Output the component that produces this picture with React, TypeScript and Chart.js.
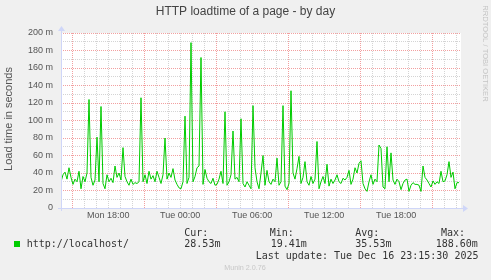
import React, { useEffect, useRef } from 'react';
import { Chart, registerables } from 'chart.js';
Chart.register(...registerables);

const chartTitle = 'HTTP loadtime of a page - by day';
const yAxisTitle = 'Load time in seconds';
const seriesName = 'http://localhost/';
const startHour = 14.07; // Mon ~14:04
const stepHours = 1 / 6; // 10 minutes per sample
const loadTimeMs = [
  30, 38, 41, 33, 46, 35, 27, 33, 30, 42,
  22, 36, 30, 40, 124, 35, 26, 32, 81, 30,
  116, 28, 22, 38, 30, 34, 29, 48, 35, 40,
  32, 69, 36, 30, 26, 33, 27, 29, 28, 30,
  126, 30, 38, 28, 42, 33, 37, 30, 42, 35,
  28, 38, 80, 33, 40, 35, 45, 32, 27, 23,
  22, 30, 105, 28, 35, 189, 30, 36, 46, 48,
  172, 27, 44, 34, 30, 28, 34, 26, 27, 33,
  42, 28, 110, 26, 30, 38, 88, 33, 35, 30,
  102, 28, 24, 30, 26, 22, 117, 46, 30, 22,
  40, 60, 26, 43, 30, 27, 33, 30, 57, 26,
  30, 117, 25, 21, 28, 134, 40, 33, 45, 59,
  28, 35, 53, 30, 26, 36, 28, 33, 76, 22,
  30, 36, 28, 50, 25, 33, 28, 32, 38, 30,
  28, 34, 32, 35, 43, 27, 33, 46, 40, 51,
  54, 28, 22, 19, 30, 38, 27, 33, 30, 72,
  68, 24, 22, 70, 30, 63, 32, 27, 33, 30,
  21, 28, 32, 33, 19, 26, 29, 27, 27, 26,
  19, 48, 35, 32, 28, 24, 31, 27, 30, 28,
  42, 30, 31, 38, 53, 35, 41, 22, 29, 29,
];
const xTickHours = [18, 24, 30, 36, 42];
const xTickText = ['Mon 18:00', 'Tue 00:00', 'Tue 06:00', 'Tue 12:00', 'Tue 18:00'];
const yMax = 200;
const legendHeaders = ['Cur:', 'Min:', 'Avg:', 'Max:'];
const legendValues = ['28.53m', '19.41m', '35.53m', '188.60m'];
const lastUpdate = 'Last update: Tue Dec 16 23:15:30 2025';
const watermark = 'RRDTOOL / TOBI OETIKER';
const footer = 'Munin 2.0.76';

const GRID = '#D4D4D4';
const MGRID = '#F2A0A0';
const AXIS = '#CFD6F8';
const SANS = '"Liberation Sans", Arial, sans-serif';
const MONO = '"DejaVu Sans Mono", monospace';

const decorPlugin = {
  id: 'decor',
  beforeDraw(chart: any) {
    const { ctx, chartArea: a } = chart;
    ctx.save();
    ctx.fillStyle = '#F0F0F0';
    ctx.fillRect(0, 0, chart.width, chart.height);
    ctx.fillStyle = '#FFFFFF';
    ctx.fillRect(a.left, a.top, a.right - a.left, a.bottom - a.top);
    ctx.restore();
  },
  afterDraw(chart: any) {
    const { ctx, chartArea: a } = chart;
    ctx.save();
    // axes
    ctx.strokeStyle = AXIS;
    ctx.fillStyle = AXIS;
    ctx.lineWidth = 1;
    ctx.beginPath();
    ctx.moveTo(a.left - 3, a.bottom + 0.5);
    ctx.lineTo(a.right + 3, a.bottom + 0.5);
    ctx.moveTo(a.left + 0.5, a.bottom + 3);
    ctx.lineTo(a.left + 0.5, a.top - 3);
    ctx.stroke();
    ctx.beginPath();
    ctx.moveTo(a.right + 2, a.bottom + 0.5 - 3.5);
    ctx.lineTo(a.right + 7, a.bottom + 0.5);
    ctx.lineTo(a.right + 2, a.bottom + 0.5 + 3.5);
    ctx.closePath();
    ctx.fill();
    ctx.beginPath();
    ctx.moveTo(a.left + 0.5 - 3.5, a.top - 2);
    ctx.lineTo(a.left + 0.5, a.top - 7);
    ctx.lineTo(a.left + 0.5 + 3.5, a.top - 2);
    ctx.closePath();
    ctx.fill();

    // title
    ctx.fillStyle = '#444';
    ctx.font = `12px ${SANS}`;
    ctx.textAlign = 'center';
    ctx.textBaseline = 'middle';
    ctx.fillText(chartTitle, 245.5, 12);

    // y axis title
    ctx.save();
    ctx.translate(9, 119);
    ctx.rotate(-Math.PI / 2);
    ctx.fillStyle = '#555';
    ctx.font = `11px ${SANS}`;
    ctx.fillText(yAxisTitle, 0, 0);
    ctx.restore();

    // watermark
    ctx.save();
    ctx.translate(485.5, 53.5);
    ctx.rotate(Math.PI / 2);
    ctx.fillStyle = '#C4C4C4';
    ctx.font = `7.6px ${SANS}`;
    ctx.fillText(watermark, 0, 0);
    ctx.restore();

    // footer
    ctx.fillStyle = '#C8C8C8';
    ctx.font = `7.2px ${SANS}`;
    ctx.fillText(footer, 245, 268.5);

    // legend
    ctx.textAlign = 'left';
    ctx.fillStyle = '#333';
    ctx.font = `10px ${MONO}`;
    const hx = [184.3, 269.7, 355.3, 441];
    const vx = [184.3, 270.7, 355.3, 435.7];
    legendHeaders.forEach((h, i) => ctx.fillText(h, hx[i], 233));
    ctx.fillText(seriesName, 26.7, 244.5);
    legendValues.forEach((v, i) => ctx.fillText(v, vx[i], 244.5));
    ctx.fillText(lastUpdate, 255.7, 256.5);
    ctx.fillStyle = '#00CC00';
    ctx.fillRect(14, 241, 6, 6);
    ctx.restore();
  },
};

export default function App() {
  const ref = useRef<HTMLCanvasElement>(null);
  useEffect(() => {
    document.body.style.margin = '0';
    const points = loadTimeMs.map((v, i) => ({ x: startHour + i * stepHours, y: v }));
    const chart = new Chart(ref.current as HTMLCanvasElement, {
      type: 'line',
      data: {
        datasets: [
          {
            label: seriesName,
            data: points,
            borderColor: '#00CC00',
            borderWidth: 1,
            pointRadius: 0,
            tension: 0,
            fill: false,
          },
        ],
      },
      options: {
        responsive: false,
        animation: false,
        events: [],
        layout: { padding: { left: 0, top: 33, right: 30, bottom: 0 } },
        plugins: { legend: { display: false }, title: { display: false }, tooltip: { enabled: false } },
        scales: {
          x: {
            type: 'linear',
            min: startHour,
            max: startHour + 400 * stepHours / 2,
            afterFit: (s: any) => { s.height = 72; },
            border: { display: false, dash: [1, 1] },
            grid: {
              drawTicks: false,
              color: (c: any) => (((Math.round(c.tick.value) - 15) % 6 === 0) ? MGRID : GRID),
            },
            ticks: {
              stepSize: 1,
              includeBounds: false,
              autoSkip: false,
              maxRotation: 0,
              minRotation: 0,
              maxTicksLimit: 100,
              padding: 2,
              color: '#555',
              font: { family: SANS, size: 9 },
              callback: (v: any) => {
                const k = xTickHours.indexOf(Math.round(Number(v)));
                return k >= 0 ? xTickText[k] : '';
              },
            },
          },
          y: {
            type: 'linear',
            min: 0,
            max: yMax,
            afterFit: (s: any) => { s.width = 61; },
            border: { display: false, dash: [1, 1] },
            grid: {
              drawTicks: false,
              color: (c: any) => (Math.round(c.tick.value) % 20 === 0 ? MGRID : GRID),
            },
            ticks: {
              stepSize: 10,
              autoSkip: false,
              maxTicksLimit: 100,
              padding: 8,
              color: '#555',
              font: { family: SANS, size: 9 },
              callback: (v: any) => {
                const n = Math.round(Number(v));
                if (n % 20 !== 0) return '';
                return n === 0 ? '0' : `${n} m`;
              },
            },
          },
        },
      },
      plugins: [decorPlugin],
    });
    return () => chart.destroy();
  }, []);
  return <canvas ref={ref} width={491} height={280} style={{ display: 'block' }} />;
}
